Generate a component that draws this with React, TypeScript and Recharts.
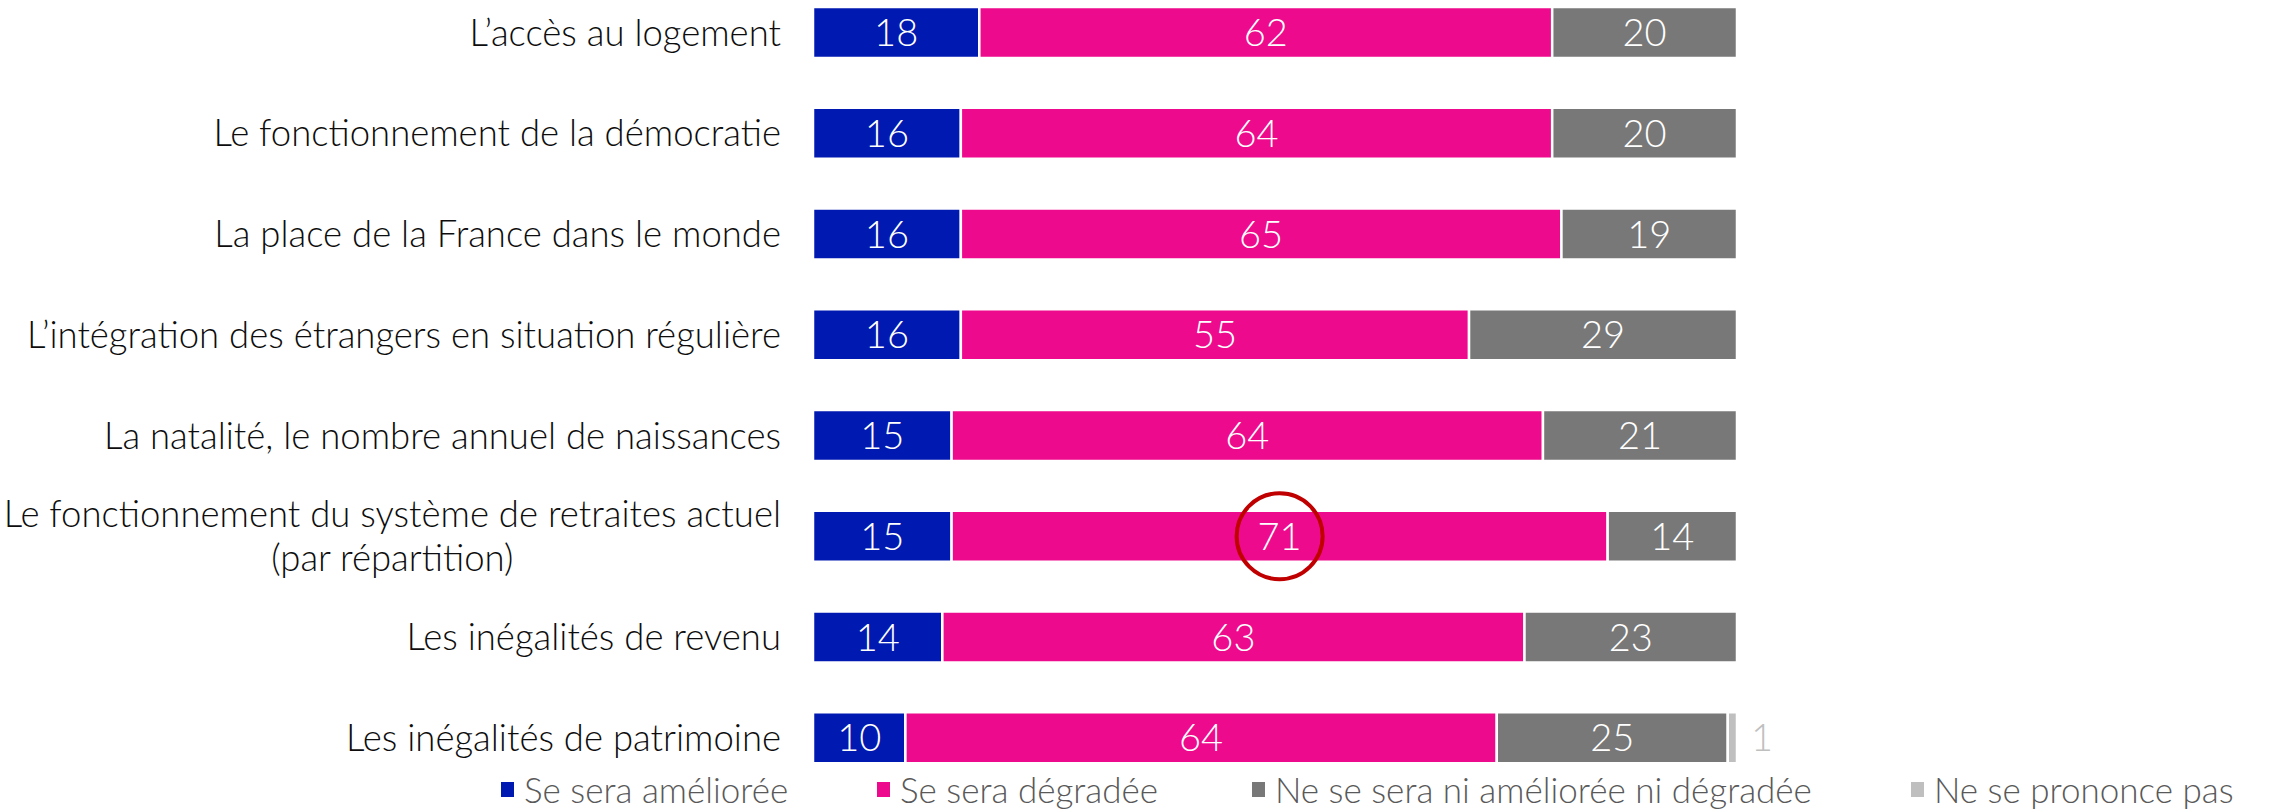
import React from "react";
import { BarChart, Bar, XAxis, YAxis, LabelList } from "recharts";

const categories = [
  "L\u2019accès au logement",
  "Le fonctionnement de la démocratie",
  "La place de la France dans le monde",
  "L\u2019intégration des étrangers en situation régulière",
  "La natalité, le nombre annuel de naissances",
  "Le fonctionnement du système de retraites actuel\n(par répartition)",
  "Les inégalités de revenu",
  "Les inégalités de patrimoine",
];
const ameliore = [18, 16, 16, 16, 15, 15, 14, 10];
const degrade = [62, 64, 65, 55, 64, 71, 63, 64];
const niNi = [20, 20, 19, 29, 21, 14, 23, 25];
const nspp = [0, 0, 0, 0, 0, 0, 0, 1];
const highlightIndex = 5;

const seriesNames = [
  "Se sera améliorée",
  "Se sera dégradée",
  "Ne se sera ni améliorée ni dégradée",
  "Ne se prononce pas",
];
const seriesKeys = ["ameliore", "degrade", "niNi", "nspp"];
const colors = ["#0019B0", "#EE0A8C", "#787878", "#BFBFBF"];
const legendLeft = [501, 877, 1252, 1911];

const data = categories.map((name, i) => ({
  name,
  ameliore: ameliore[i],
  degrade: degrade[i],
  niNi: niNi[i],
  nspp: nspp[i],
}));

const FONT = "Lato, sans-serif";
const LABEL_SIZE = 36.5;
const VALUE_SIZE = 38;
const LEGEND_SIZE = 35;

let measureCtx: CanvasRenderingContext2D | null = null;
function measure(text: string): number {
  if (!measureCtx) {
    const c = document.createElement("canvas");
    measureCtx = c.getContext("2d");
  }
  if (!measureCtx) return text.length * LABEL_SIZE * 0.45;
  measureCtx.font = `300 ${LABEL_SIZE}px Lato`;
  return measureCtx.measureText(text).width;
}

const CategoryTick = (props: any) => {
  const { x, y, payload } = props;
  const lines = String(payload.value).split("\n");
  if (lines.length === 1) {
    return (
      <text x={x} y={y} dy="0.36em" textAnchor="end" fontFamily={FONT} fontWeight={300} fontSize={LABEL_SIZE} fill="#0D0D0D">
        {lines[0]}
      </text>
    );
  }
  const w = measure(lines[0]);
  const lh = 44;
  return (
    <g>
      <text x={x} y={y - lh / 2} dy="0.36em" textAnchor="end" fontFamily={FONT} fontWeight={300} fontSize={LABEL_SIZE} fill="#0D0D0D">
        {lines[0]}
      </text>
      <text x={x - w / 2} y={y + lh / 2} dy="0.36em" textAnchor="middle" fontFamily={FONT} fontWeight={300} fontSize={LABEL_SIZE} fill="#0D0D0D">
        {lines[1]}
      </text>
    </g>
  );
};

const makeInsideLabel = (withCircle: boolean) => (props: any) => {
  const { x, y, width, height, value, index } = props;
  if (!value) return null;
  const cx = x + width / 2;
  const cy = y + height / 2;
  return (
    <g>
      <text x={cx} y={cy} dy="0.36em" textAnchor="middle" fontFamily={FONT} fontWeight={300} fontSize={VALUE_SIZE} fill="#FFFFFF">
        {value}
      </text>
      {withCircle && index === highlightIndex ? (
        <circle cx={cx} cy={cy} r={43} fill="none" stroke="#C00000" strokeWidth={4} />
      ) : null}
    </g>
  );
};

const OutsideLabel = (props: any) => {
  const { x, y, width, height, value } = props;
  if (!value) return null;
  return (
    <text x={x + width + 14} y={y + height / 2} dy="0.36em" textAnchor="start" fontFamily={FONT} fontWeight={300} fontSize={VALUE_SIZE} fill="#BFBFBF">
      {value}
    </text>
  );
};

export default function App() {
  return (
    <div style={{ position: "absolute", left: 0, top: 0, width: 2277, height: 810, background: "#fff", overflow: "hidden" }}>
      <BarChart
        width={2277}
        height={810}
        data={data}
        layout="vertical"
        margin={{ top: -18, right: 540, bottom: 22, left: 0 }}
        barSize={51}
      >
        <XAxis type="number" domain={[0, 100]} hide />
        <YAxis
          type="category"
          dataKey="name"
          width={813}
          axisLine={false}
          tickLine={false}
          tickSize={0}
          tickMargin={32}
          interval={0}
          tick={<CategoryTick />}
        />
        <Bar dataKey="ameliore" stackId="a" fill={colors[0]} stroke="#fff" strokeWidth={2.5} isAnimationActive={false}>
          <LabelList dataKey="ameliore" content={makeInsideLabel(false)} />
        </Bar>
        <Bar dataKey="degrade" stackId="a" fill={colors[1]} stroke="#fff" strokeWidth={2.5} isAnimationActive={false}>
          <LabelList dataKey="degrade" content={makeInsideLabel(true)} />
        </Bar>
        <Bar dataKey="niNi" stackId="a" fill={colors[2]} stroke="#fff" strokeWidth={2.5} isAnimationActive={false}>
          <LabelList dataKey="niNi" content={makeInsideLabel(false)} />
        </Bar>
        <Bar dataKey="nspp" stackId="a" fill={colors[3]} stroke="#fff" strokeWidth={2.5} isAnimationActive={false}>
          <LabelList dataKey="nspp" content={OutsideLabel} />
        </Bar>
      </BarChart>
      {seriesKeys.map((k, i) => (
        <div
          key={k}
          style={{
            position: "absolute",
            left: legendLeft[i],
            top: 771,
            height: 36,
            display: "flex",
            alignItems: "center",
            fontFamily: FONT,
            fontWeight: 300,
            fontSize: LEGEND_SIZE,
            color: "#595959",
            whiteSpace: "nowrap",
            lineHeight: "36px",
          }}
        >
          <span style={{ display: "inline-block", width: 13, height: 15, background: colors[i], marginRight: 10 }} />
          <span>{seriesNames[i]}</span>
        </div>
      ))}
    </div>
  );
}
